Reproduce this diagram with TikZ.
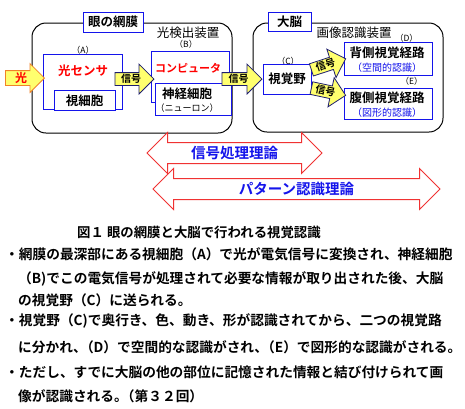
\documentclass[tikz,border=0pt]{standalone}
\usepackage{fontspec}
\setmainfont{Noto Sans CJK JP}[BoldFont={Noto Sans CJK JP Bold}]
\usepackage{xcolor}
\usepackage{tikz}
\usetikzlibrary{positioning}
\usetikzlibrary{shapes.arrows}

\definecolor{boxblue}{RGB}{20,20,235}
\definecolor{sigyellow}{RGB}{255,255,110}
\definecolor{lightorange}{RGB}{240,130,40}
\definecolor{navy}{RGB}{30,30,110}
\definecolor{arrowred}{RGB}{240,50,50}

\tikzset{
  region/.style={draw=black, line width=1pt, rounded corners=14pt, inner sep=0pt},
  tag/.style={draw=boxblue, fill=white, line width=1pt, inner sep=0pt,
    font=\bfseries\fontsize{12.5}{14}\selectfont},
  cellbox/.style={draw=boxblue, fill=white, line width=1pt, inner sep=0pt},
  plain/.style={inner sep=0pt, font=\fontsize{12.5}{14}\selectfont},
  idx/.style={inner sep=0pt, font=\fontsize{8.5}{10}\selectfont},
  boldtext/.style={inner sep=0pt, font=\bfseries\fontsize{12.5}{14}\selectfont},
  sig/.style={single arrow, draw=navy, fill=sigyellow, line width=0.8pt,
    single arrow tip angle=90, single arrow head extend=8.5pt,
    text height=8.5pt, text depth=1.5pt, inner ysep=1pt, inner xsep=1pt,
    font=\bfseries\fontsize{10}{12}\selectfont},
  theory/.style={double arrow, draw=arrowred, fill=white, line width=1pt,
    double arrow tip angle=90, text=boxblue,
    text height=12.5pt, text depth=2.5pt, inner ysep=2.5pt,
    font=\bfseries\fontsize{14.5}{16}\selectfont},
  note/.style={anchor=west, inner sep=0pt, font=\bfseries\fontsize{13.7}{16}\selectfont}
}
\newcommand{\tight}{\kern-.5em}

\begin{document}
\begin{tikzpicture}[x=1pt,y=-1pt]
  \useasboundingbox (0,0) rectangle (465,408);

  % the two rounded regions
  \node[region, minimum width=200, minimum height=110] (eye) at (132,78) {};
  \node[region, minimum width=190, minimum height=109] (brain) at (348,77.5) {};
  \node[tag, minimum width=60, minimum height=20] (eyetag) at (113,22) {眼の網膜};
  \node[tag, minimum width=43, minimum height=19] (braintag) at (289.5,21.5) {大脳};
  \node[plain] (detector) at (188,33) {光検出装置};
  \node[plain] (recog) at (354,33) {画像認識装置};

  % retina side
  \node[idx] (idxa) at (83,50) {（A）};
  \node[idx] (idxb) at (186,44.5) {（B）};
  \node[cellbox, minimum width=79, minimum height=55] (sensor) at (82.5,81.5) {};
  \node[boldtext, text=red] (sensortxt) at (83,71) {光センサ};
  \node[cellbox, boldtext, minimum width=61, minimum height=20] (rod) at (84.5,100.5) {視細胞};
  \node[cellbox, minimum width=78, minimum height=51] (comp) at (190,76.5) {};
  \node[boldtext, text=red, font=\bfseries\fontsize{11}{13}\selectfont] (comptxt) at (188,68) {コンピュータ};
  \node[cellbox, minimum width=76, minimum height=32] (neuron) at (193,99) {};
  \node[boldtext] (neurontxt) at (187,94) {神経細胞};
  \node[idx, font=\fontsize{9}{10}\selectfont] (neuronsub) at (187,108.5) {（ニューロン）};

  % brain side
  \node[idx] (idxc) at (288,61) {（C）};
  \node[idx] (idxd) at (406.5,38.5) {（D）};
  \node[idx] (idxe) at (411.5,81.5) {（E）};
  \node[cellbox, boldtext, minimum width=48, minimum height=30] (visual) at (287,79) {視覚野};
  \node[cellbox, minimum width=88, minimum height=33] (dorsal) at (388,58.5) {};
  \node[boldtext] (dorsaltxt) at (387,53) {背側視覚経路};
  \node[idx, font=\fontsize{10}{12}\selectfont, text=boxblue] (dorsalsub) at (387,68) {（空間的認識）};
  \node[cellbox, minimum width=88, minimum height=31] (ventral) at (388,103.5) {};
  \node[boldtext] (ventraltxt) at (387,98) {腹側視覚経路};
  \node[idx, font=\fontsize{10}{12}\selectfont, text=boxblue] (ventralsub) at (387,113) {（図形的認識）};

  % block arrows
  \node[sig, draw=lightorange, text=red, minimum height=39, single arrow head extend=7pt,
    text height=10pt, text depth=2pt, font=\bfseries\fontsize{12}{14}\selectfont,
    anchor=tip] (light) at (45,78) {光};
  \node[sig, minimum height=39, anchor=tip] (sig1) at (154.5,79) {信号};
  \node[sig, minimum height=40, anchor=tip] (sig2) at (visual.west) {信号};
  \node[sig, minimum height=36, rotate=18, anchor=tail] (sig3) at (311,70) {信号};
  \node[sig, minimum height=35, rotate=-12, anchor=tail] (sig4) at (311,88) {信号};

  % theories
  \node[theory, minimum height=175, double arrow head extend=10pt] (sigproc) at (234.5,153) {信号処理理論};
  \node[theory, minimum height=287, double arrow head extend=10pt] (pattern) at (296.5,189) {パターン認識理論};

  % caption and notes
  \node[inner sep=0pt, font=\bfseries\fontsize{13.4}{16}\selectfont] (caption) at (199,232)
    {図１\ 眼の網膜と大脳で行われる視覚認識};
  \node[note] (l1) at (5,254) {・網膜の最深部にある視細胞（A）で光が電気信号に変換され、神経細胞};
  \node[note] (l2) at (18,279) {（B)でこの電気信号が処理されて必要な情報が取り出された後、大脳};
  \node[note] (l3) at (18,300) {の視覚野（C）に送られる。};
  \node[note] (l4) at (5,321) {・視覚野（C)で奥行き、色、動き、形が認識されてから、二つの視覚路};
  \node[note] (l5) at (18,347) {に分かれ、\tight（D）で空間的な認識がされ、\tight（E）で図形的な認識がされる。};
  \node[note] (l6) at (5,372) {・ただし、すでに大脳の他の部位に記憶された情報と結び付けられて画};
  \node[note] (l7) at (18,396) {像が認識される。\tight（第３２回）};
\end{tikzpicture}
\end{document}
